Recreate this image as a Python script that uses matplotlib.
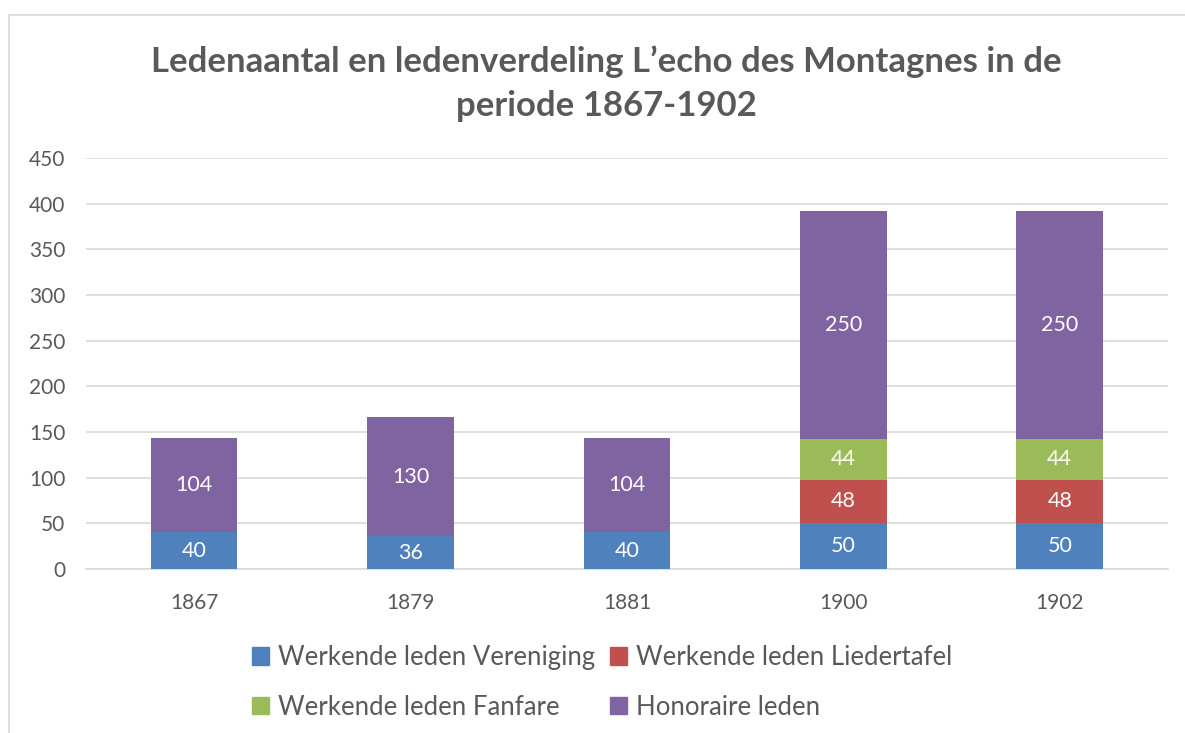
import numpy as np
import matplotlib
matplotlib.use("Agg")
from matplotlib import pyplot as plt
from matplotlib.patches import Rectangle, Patch

plt.rcParams['font.family'] = ['Lato', 'DejaVu Sans']

years = ["1867", "1879", "1881", "1900", "1902"]
vereniging = [40, 36, 40, 50, 50]
liedertafel = [0, 0, 0, 48, 48]
fanfare = [0, 0, 0, 44, 44]
honoraire = [104, 130, 104, 250, 250]

series_names = ["Werkende leden Vereniging", "Werkende leden Liedertafel",
                "Werkende leden Fanfare", "Honoraire leden"]
colors = ["#4F81BD", "#C0504D", "#9BBB59", "#8064A2"]
text_color = "#595959"

fig = plt.figure(figsize=(11.85, 7.33), dpi=100)
ax = fig.add_axes([0.0726, 0.2237, 0.913, 0.5607])

# light frame around the chart area
fig.patches.append(Rectangle((0.008, -0.01), 1.2, 0.99, transform=fig.transFigure,
                             fill=False, edgecolor="#D9D9D9", linewidth=1.2))

x = np.arange(len(years))
bottom = np.zeros(len(years))
for vals, name, col in zip([vereniging, liedertafel, fanfare, honoraire], series_names, colors):
    vals = np.array(vals, dtype=float)
    ax.bar(x, vals, width=0.4, bottom=bottom, color=col, label=name, zorder=3)
    for xi, b, v in zip(x, bottom, vals):
        if v > 0:
            ax.text(xi, b + v / 2, f"{int(v)}", ha="center", va="center",
                    color="white", fontsize=15.5, zorder=4)
    bottom += vals

ax.set_xlim(-0.5, len(years) - 0.5)
ax.set_ylim(0, 450)
ax.set_yticks(np.arange(0, 451, 50))
ax.set_xticks(x)
ax.set_xticklabels(years)
ax.grid(axis="y", color="#D9D9D9", linewidth=1.2, zorder=0)
for s in ["top", "right", "left"]:
    ax.spines[s].set_visible(False)
ax.spines["bottom"].set_color("#D9D9D9")
ax.spines["bottom"].set_linewidth(1.2)
ax.tick_params(axis="both", length=0, labelsize=15, colors=text_color)
ax.tick_params(axis="y", pad=15)
ax.tick_params(axis="x", pad=17)

fig.text(0.512, 0.886, "Ledenaantal en ledenverdeling L\u2019echo des Montagnes in de\nperiode 1867-1902",
         ha="center", va="center", fontsize=25, fontweight="bold", color=text_color,
         linespacing=1.45)

handles = [Patch(color=c) for c in colors]
order = [0, 2, 1, 3]
fig.legend([handles[i] for i in order], [series_names[i] for i in order],
           loc="center", bbox_to_anchor=(0.508, 0.069), ncol=2, frameon=False,
           fontsize=18.5, labelcolor=text_color, handlelength=0.65, handleheight=0.65,
           handletextpad=0.35, columnspacing=0.58, labelspacing=0.97)

fig.savefig("out.png", dpi=100)
